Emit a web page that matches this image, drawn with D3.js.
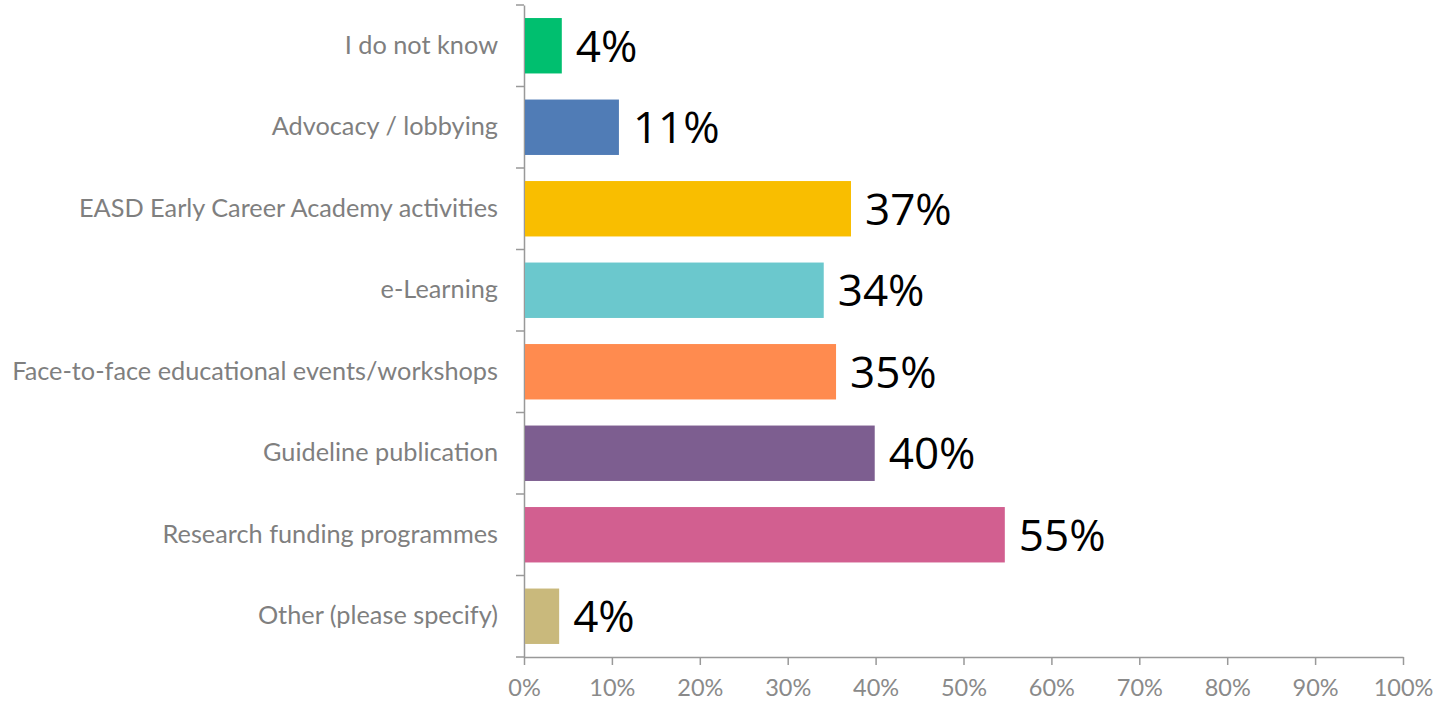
<html>
<script src='https://cdn.jsdelivr.net/npm/d3@7'></script>
<body style="margin:0;background:white;">
<svg id="chart" width="1440" height="705"></svg>
<script>

// chart data
const categories = ["I do not know", "Advocacy / lobbying", "EASD Early Career Academy activities",
    "e-Learning", "Face-to-face educational events/workshops", "Guideline publication",
    "Research funding programmes", "Other (please specify)"];
const values = [4.3, 10.8, 37.2, 34.1, 35.5, 39.9, 54.7, 4.0];
const valueLabels = ["4%", "11%", "37%", "34%", "35%", "40%", "55%", "4%"];
const colors = ["#00BF6F", "#507CB6", "#F9BE00", "#6BC8CD", "#FF8B4F", "#7D5E90", "#D25F90", "#C9B97C"];
const ticks = [0, 10, 20, 30, 40, 50, 60, 70, 80, 90, 100];

const svg = d3.select('#chart');
const margin = { top: 5, left: 524, right: 37, bottom: 48 };
const width = 1440, height = 705;

const x = d3.scaleLinear().domain([0, 100]).range([margin.left, width - margin.right]);
const y = d3.scaleBand().domain(categories).range([margin.top, height - margin.bottom]).padding(0);
const barPad = 0.16;

// y axis
const yAxis = svg.append("g")
    .attr("transform", `translate(${margin.left},0)`)
    .call(d3.axisLeft(y).tickSize(0).tickPadding(26));
yAxis.select(".domain").attr("stroke", "#999").attr("stroke-width", 1.5);
yAxis.selectAll("text")
    .attr("font-family", "Lato, sans-serif")
    .attr("font-size", 25.3)
    .attr("fill", "#7f7f7f");

// category separators on left axis
const bounds = categories.map(c => y(c)).concat([y.range()[1]]);
svg.selectAll(".ytick").data(bounds).enter().append("line")
    .attr("x1", margin.left - 8).attr("x2", margin.left)
    .attr("y1", d => d).attr("y2", d => d)
    .attr("stroke", "#999").attr("stroke-width", 1.5);

// x axis
const xAxis = svg.append("g")
    .attr("transform", `translate(0,${height - margin.bottom})`)
    .call(d3.axisBottom(x).tickValues(ticks).tickFormat(d => d + "%").tickSize(8).tickSizeOuter(0).tickPadding(14));
xAxis.select(".domain").attr("stroke", "#999").attr("stroke-width", 1.5);
xAxis.selectAll("line").attr("stroke", "#999").attr("stroke-width", 1.5);
xAxis.selectAll("text")
    .attr("font-family", "Lato, sans-serif")
    .attr("font-size", 23.5)
    .attr("fill", "#8a8a8a");

// bars
svg.selectAll(".bar").data(values).enter().append("rect")
    .attr("x", x(0) + 1)
    .attr("y", (d, i) => y(categories[i]) + y.bandwidth() * barPad)
    .attr("width", d => x(d) - x(0) - 1)
    .attr("height", y.bandwidth() * (1 - 2 * barPad))
    .attr("fill", (d, i) => colors[i]);

// value labels
svg.selectAll(".val").data(values).enter().append("text")
    .attr("x", d => x(d) + 14)
    .attr("y", (d, i) => y(categories[i]) + y.bandwidth() / 2)
    .attr("dy", "0.36em")
    .attr("font-family", "'Open Sans', sans-serif")
    .attr("font-size", 44)
    .attr("fill", "#000")
    .text((d, i) => valueLabels[i]);

</script>
</body>
</html>
